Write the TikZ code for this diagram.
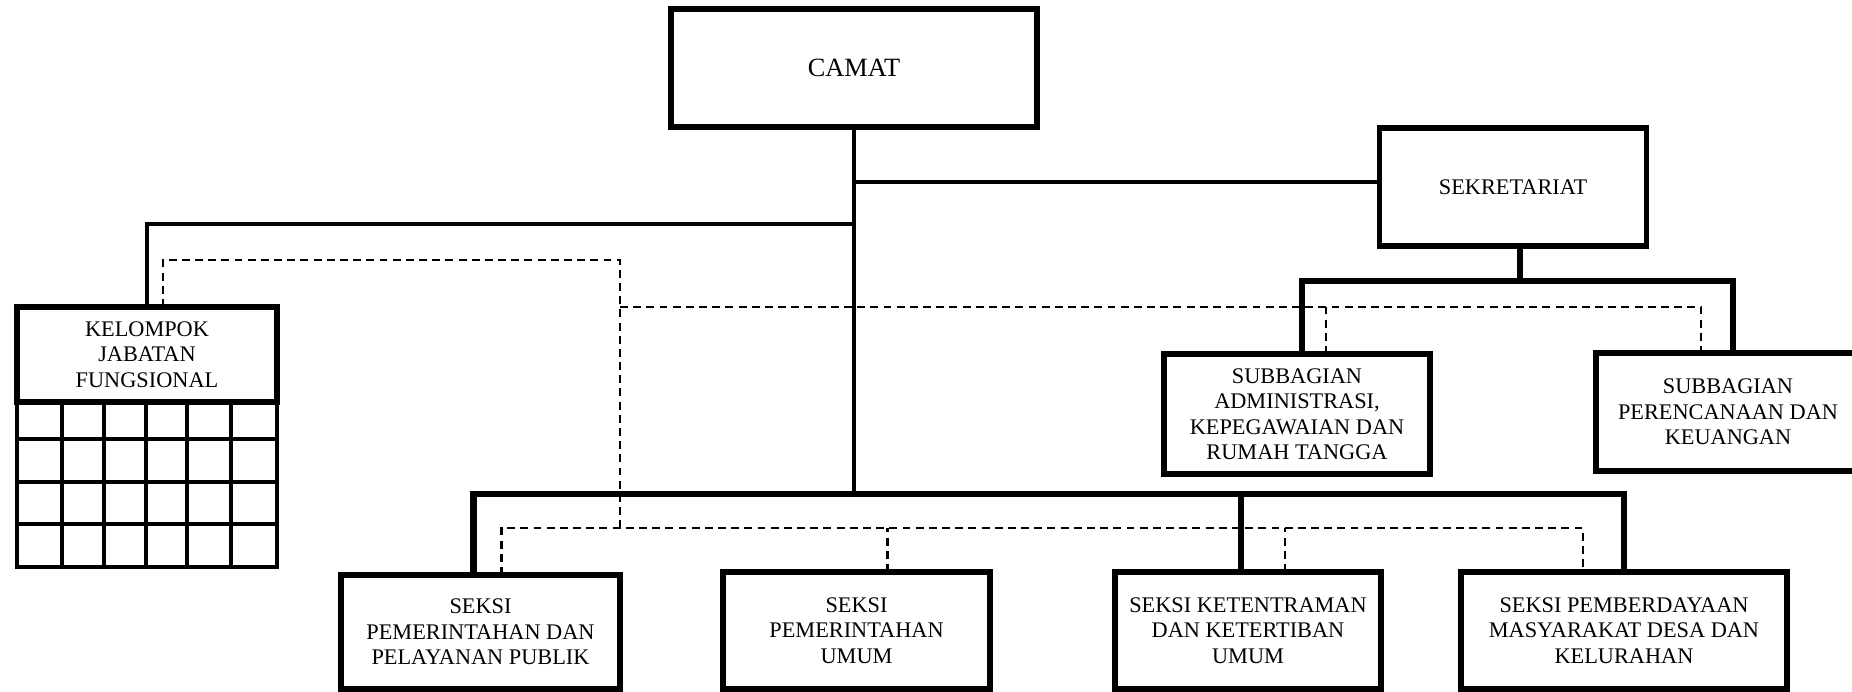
\documentclass[tikz,border=0pt]{standalone}
\usepackage{fontspec}
\setmainfont{Liberation Serif}
\usetikzlibrary{calc}

\begin{document}
\begin{tikzpicture}[x=0.02cm, y=-0.02cm,
    unit/.style={draw, line width=3pt, inner sep=0pt, outer sep=0pt, align=center,
        font=\fontsize{12.7}{14.5}\selectfont},
    link/.style={line width=2.6pt},
    heavylink/.style={line width=3.6pt},
    gridline/.style={line width=2.8pt},
    dotlink/.style={line width=1.4pt, dash pattern=on 4.5pt off 3pt}]
    \useasboundingbox (0,0) rectangle (1852,692);

    % boxes
    \node[unit, minimum width=7.32cm, minimum height=2.36cm, font=\fontsize{15}{17}\selectfont] (camat) at (854,68) {CAMAT};
    \node[unit, minimum width=5.34cm, minimum height=2.36cm] (sek) at (1513,187) {SEKRETARIAT};
    \node[unit, minimum width=5.32cm, minimum height=2.40cm] (adm) at (1297,414) {SUBBAGIAN\\ADMINISTRASI,\\KEPEGAWAIAN DAN\\RUMAH TANGGA};
    \node[unit, minimum width=5.28cm, minimum height=2.36cm] (ren) at (1728,412) {SUBBAGIAN\\PERENCANAAN DAN\\KEUANGAN};
    \node[unit, minimum width=5.20cm, minimum height=1.90cm, text depth=-0.1cm] (kjf) at (147,354.5) {KELOMPOK\\JABATAN\\FUNGSIONAL};
    \node[unit, minimum width=5.58cm, minimum height=2.28cm] (b1) at (480.5,632) {SEKSI\\PEMERINTAHAN DAN\\PELAYANAN PUBLIK};
    \node[unit, minimum width=5.34cm, minimum height=2.34cm] (b2) at (856.5,630.5) {SEKSI\\PEMERINTAHAN\\UMUM};
    \node[unit, minimum width=5.32cm, minimum height=2.34cm] (b3) at (1248,630.5) {SEKSI KETENTRAMAN\\DAN KETERTIBAN\\UMUM};
    \node[unit, minimum width=6.52cm, minimum height=2.34cm] (b4) at (1624,630.5) {SEKSI PEMBERDAYAAN\\MASYARAKAT DESA DAN\\KELURAHAN};

    % grid under kelompok jabatan fungsional
    \draw[gridline] (17,402) rectangle (277,567);
    \foreach \gx in {62,104,146,187,231}
        \draw[gridline] (\gx,402) -- (\gx,567);
    \foreach \gy in {439,482,524}
        \draw[gridline] (17,\gy) -- (277,\gy);

    % solid lines
    \coordinate (tbar) at (854,494);
    \draw[link] (camat.south) -- (tbar);
    \draw[link] (camat.south |- 0,182) -- (sek.west |- 0,182);
    \draw[link] (camat.south |- 0,224) -- (kjf.north |- 0,224) -- (kjf.north);
    \draw[heavylink] ($(sek.south)+(7,0)$) -- ++(0,35);
    \draw[heavylink] ($(adm.north)+(5,0)$) |- ($(ren.north)+(5,-72)$) -- ($(ren.north)+(5,0)$);
    \draw[heavylink] ($(b1.north)+(-7,0)$) |- (b4.north |- tbar) -- (b4.north);
    \draw[heavylink] ($(b3.north)+(-7,0)$) -- ($(b3.north |- tbar)+(-7,0)$);

    % dashed lines
    \draw[dotlink] ($(kjf.north)+(16,0)$) |- (620,260) -- (620,528);
    \draw[dotlink] (620,307) -| ($(ren.north)+(-27,0)$);
    \draw[dotlink] ($(adm.north)+(29,0)$) -- ++(0,-47);
    \draw[dotlink] ($(b1.north)+(21,0)$) |- ($(b4.north)+(-41,-44)$) -- ($(b4.north)+(-41,0)$);
    \foreach \n/\dx in {b2/31, b3/37}
        \draw[dotlink] ($(\n.north)+(\dx,0)$) -- ++(0,-44);
\end{tikzpicture}
\end{document}
